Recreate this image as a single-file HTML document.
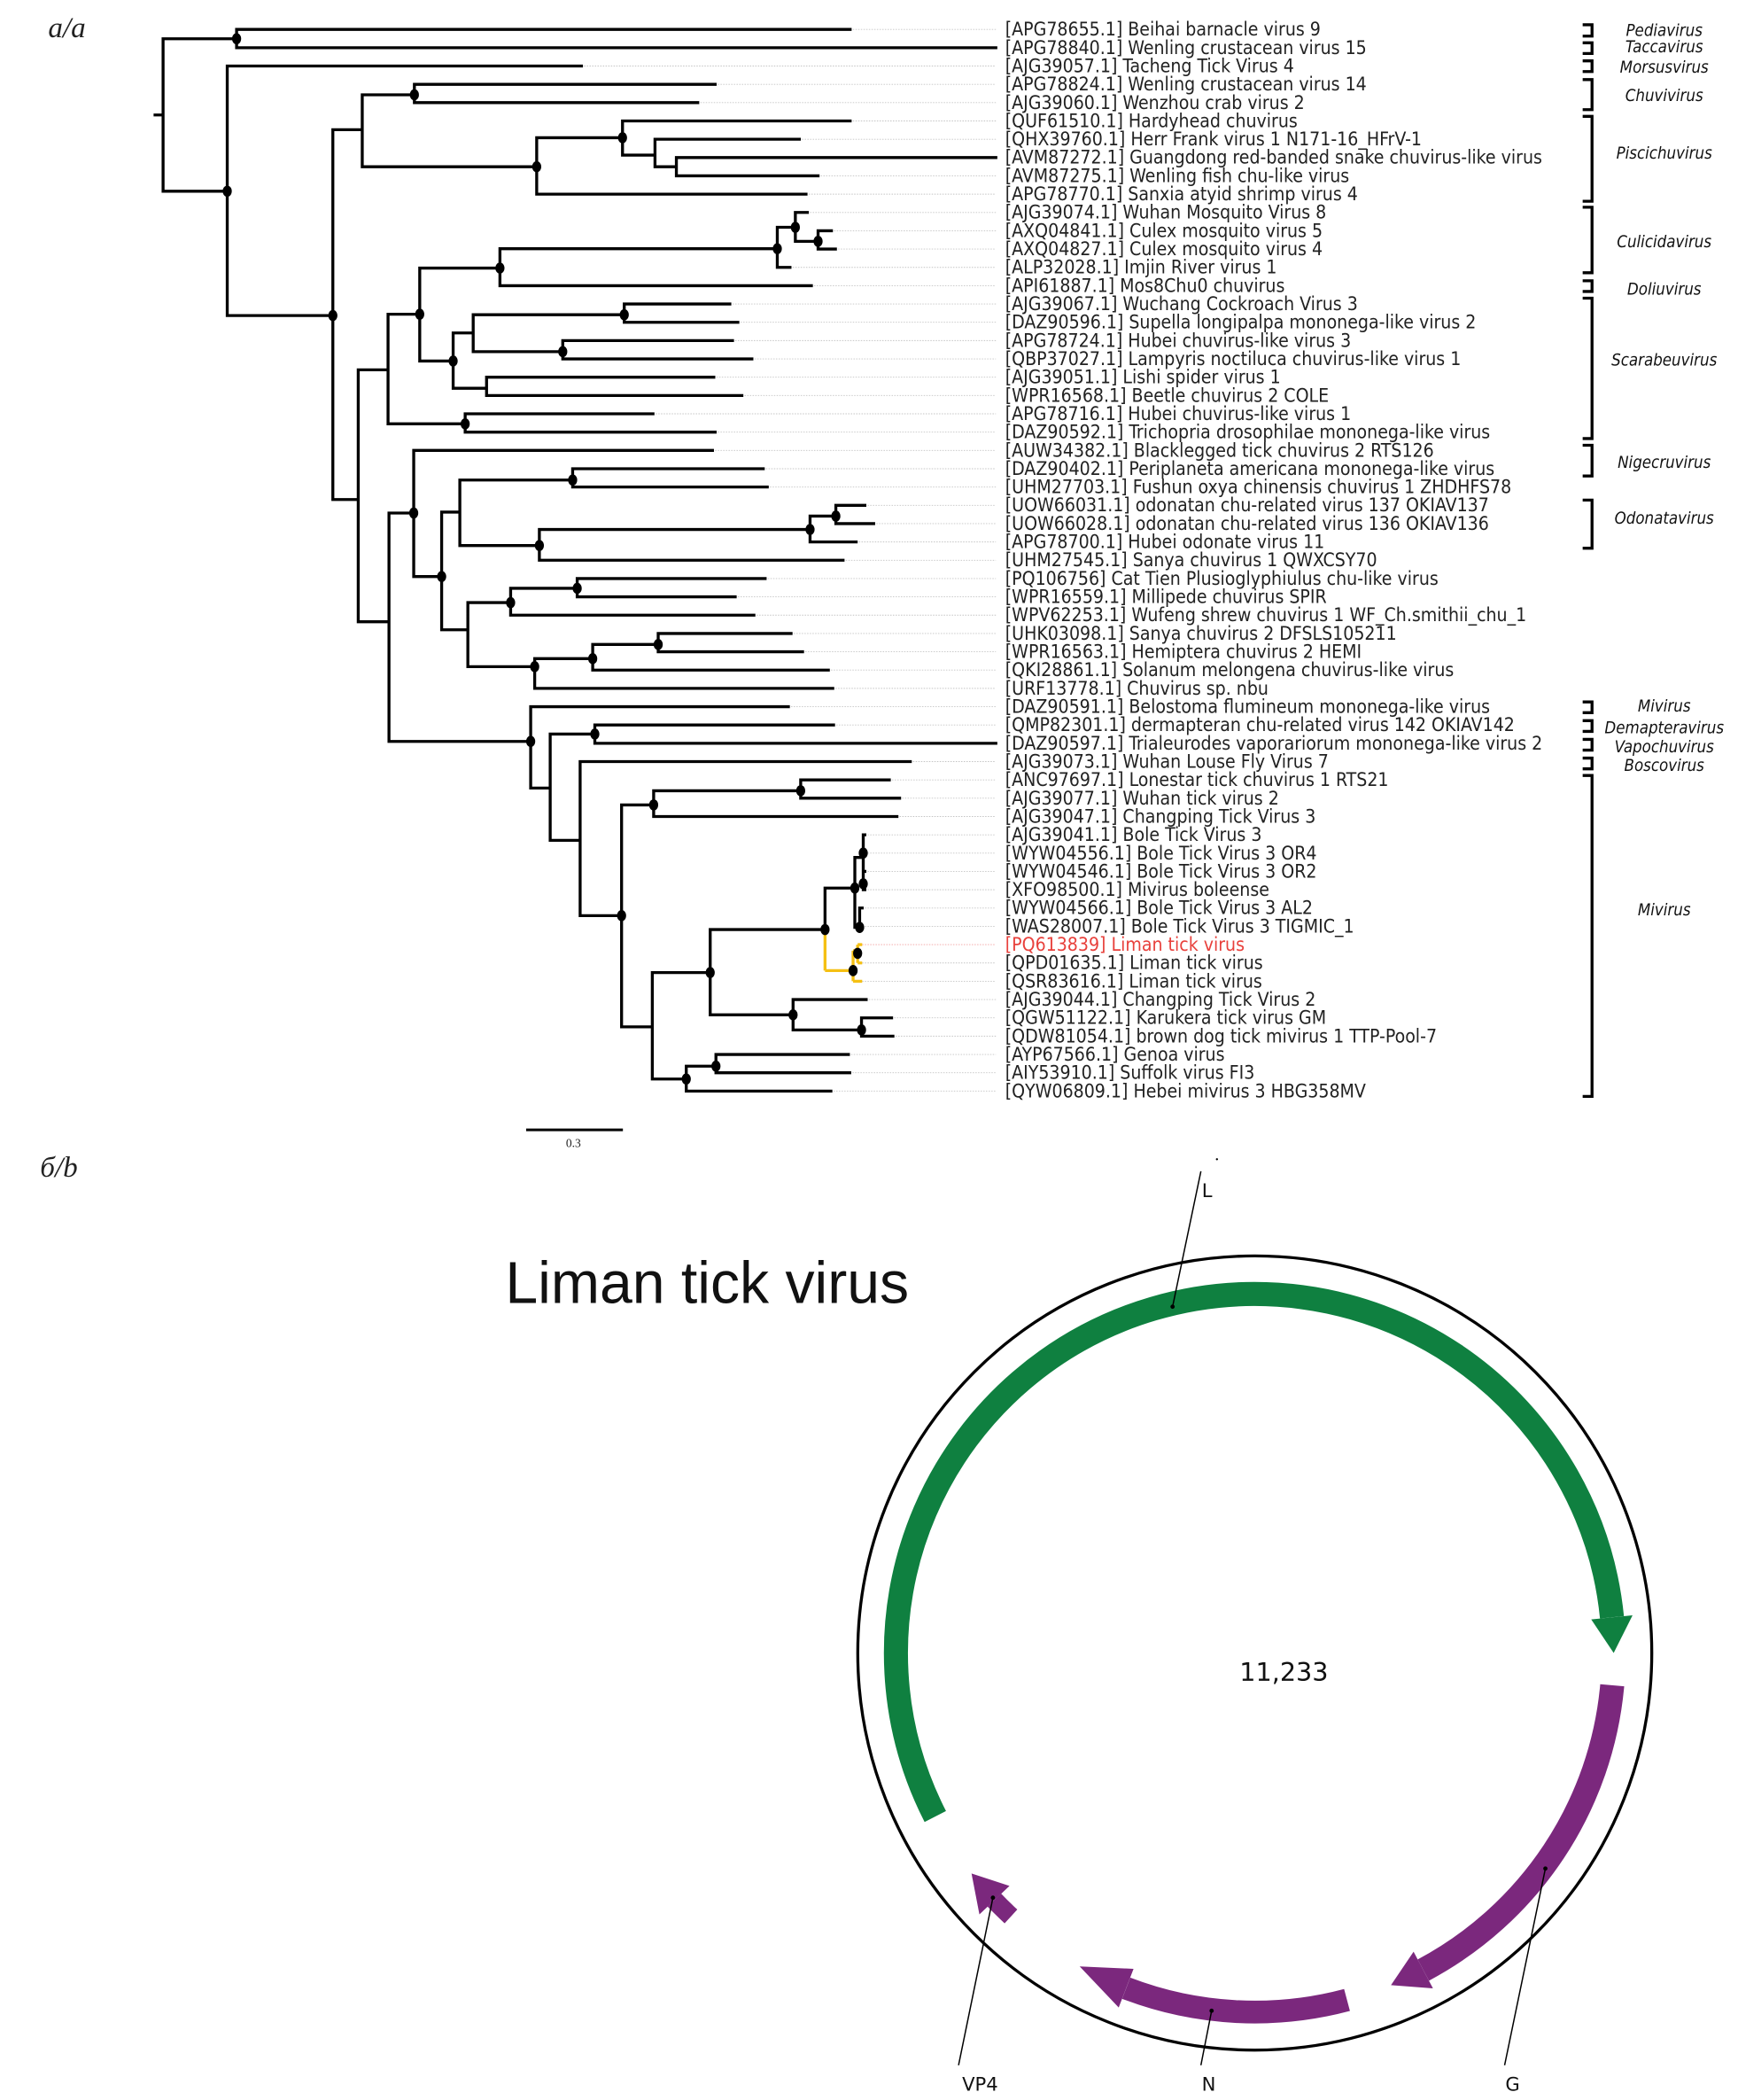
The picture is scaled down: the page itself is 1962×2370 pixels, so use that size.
<!DOCTYPE html>
<html><head><meta charset="utf-8"><style>
html,body{margin:0;padding:0;background:#fff;}
svg{display:block;}
.lb{font-family:"DejaVu Sans Condensed","DejaVu Sans","Liberation Sans",sans-serif;font-stretch:condensed;font-size:14px;fill:#222;}
.gn{font-family:"DejaVu Sans Condensed","DejaVu Sans","Liberation Sans",sans-serif;font-stretch:condensed;font-style:italic;font-size:12.3px;fill:#111;}
</style></head><body>
<svg width="1962" height="2370" viewBox="0 0 1300.2 1570.6" preserveAspectRatio="none" xmlns="http://www.w3.org/2000/svg">
<rect width="1300.2" height="1570.6" fill="#fff"/>
<text x="36" y="28" font-family="Liberation Serif,serif" font-style="italic" font-size="22" fill="#222">a/a</text>
<text x="30" y="880" font-family="Liberation Serif,serif" font-style="italic" font-size="22" fill="#222">б/b</text>

<path fill="none" stroke="#c4c4c4" stroke-width="0.6" stroke-dasharray="1 1" d="M636 22H745M435 49.38H745M535 63.07H745M522 76.76H745M636 90.45H745M598 104.14H745M612 131.52H745M603 145.21H745M604 158.9H745M622 172.59H745M625 186.28H745M591 199.97H745M607 213.66H745M546 227.35H745M552 241.04H745M548 254.73H745M562.5 268.42H745M534 282.11H745M555 295.8H745M488.5 309.49H745M535 323.18H745M533 336.87H745M571 350.56H745M574 364.25H745M647 377.94H745M653.6 391.63H745M640.5 405.32H745M630.7 419.01H745M572.4 432.7H745M550 446.39H745M564 460.08H745M591.8 473.77H745M600.4 487.46H745M619.7 501.15H745M623 514.84H745M589.8 528.53H745M623.6 542.22H745M681 569.6H745M665.3 583.29H745M673 596.98H745M671 610.67H745M647 624.36H745M647 638.05H745M647 651.74H745M647 665.43H745M645 679.12H745M645 692.81H745M645 720.19H745M645 733.88H745M648 747.57H745M667 761.26H745M668 774.95H745M634.7 788.64H745M635.7 802.33H745M621.6 816.02H745"/>
<path fill="none" stroke="#f2a0a0" stroke-width="0.6" stroke-dasharray="1 1" d="M645 706.5H745"/>

<path fill="none" stroke="#000" stroke-width="2.2" stroke-linecap="square" d="M116 86H122 M122 29V143 M122 29H177 M177 22V35.69 M177 22H636 M177 35.69H745 M122 143H170 M170 49.38V236 M170 49.38H435 M170 236H249 M249 97V373.6 M249 97H271 M249 373.6H268 M271 70.9V124.7 M271 70.9H310 M310 63.07V76.76 M310 63.07H535 M310 76.76H522 M271 124.7H401.5 M401.5 103V145.21 M401.5 103H465.7 M401.5 145.21H603 M465.7 90.45V116 M465.7 90.45H636 M465.7 116H490 M490 104.14V124.7 M490 104.14H598 M490 124.7H506 M506 117.83V131.52 M506 117.83H745 M506 131.52H612
M268 276.6V465 M268 276.6H290.3 M290.3 235V317 M290.3 235H314 M290.3 317H348 M314 200.5V270 M314 200.5H374 M314 270H339 M374 186V213.66 M374 186H581.5 M374 213.66H607 M581.5 170V199.97 M581.5 170H595 M581.5 199.97H591 M595 158.9V180.5 M595 158.9H604 M595 180.5H612 M612 172.59V186.28 M612 172.59H622 M612 186.28H625 M339 249V290.4 M339 249H354 M339 290.4H364 M354 235.4V263 M354 235.4H467 M354 263H421 M467 227.35V241.04 M467 227.35H546 M467 241.04H552 M421 254.73V268.42 M421 254.73H548 M421 268.42H562.5 M364 282.11V295.8 M364 282.11H534 M364 295.8H555 M348 309.49V323.18 M348 309.49H488.5 M348 323.18H535
M268 465H291 M291 383.7V554.5 M291 383.7H309.5 M291 554.5H397 M309.5 336.87V431.2 M309.5 336.87H533 M309.5 431.2H330.4 M330.4 383V471 M330.4 383H344 M330.4 471H350 M344 359V408 M344 359H428.4 M344 408H403.5 M428.4 350.56V364.25 M428.4 350.56H571 M428.4 364.25H574 M403.5 396V419.01 M403.5 396H606 M403.5 419.01H630.7 M606 386V405.32 M606 386H625.3 M606 405.32H640.5 M625.3 377.94V391.63 M625.3 377.94H647 M625.3 391.63H653.6 M350 450.7V498.6 M350 450.7H382 M350 498.6H400 M382 440V460.08 M382 440H431.8 M382 460.08H564 M431.8 432.7V446.39 M431.8 432.7H572.4 M431.8 446.39H550 M400 492.6V514.84 M400 492.6H443.4 M400 514.84H623 M443.4 482V501.15 M443.4 482H492.4 M443.4 501.15H619.7 M492.4 473.77V487.46 M492.4 473.77H591.8 M492.4 487.46H600.4
M397 528.53V589.4 M397 528.53H589.8 M397 589.4H411.6 M411.6 549V628.5 M411.6 549H445 M411.6 628.5H434 M445 542.22V555.91 M445 542.22H623.6 M445 555.91H745 M434 569.6V684.8 M434 569.6H681 M434 684.8H465 M465 602V768 M465 602H489 M465 768H488 M489 591.4V610.67 M489 591.4H599 M489 610.67H671 M599 583.29V596.98 M599 583.29H665.3 M599 596.98H673 M488 727.4V807 M488 727.4H531.3 M488 807H513.4 M531.3 695.2V759 M531.3 695.2H617.2 M531.3 759H593.3 M617.2 664.2V695.2 M617.2 664.2H639.5 M639.5 641.3V693.6 M639.5 641.3H645.8 M639.5 693.6H643.1 M645.8 624.36V665.43 M645.8 624.36H647 M645.8 638.05H647 M645.8 651.74H647 M645.8 665.43H647 M643.1 679.12V692.81 M643.1 679.12H645 M643.1 692.81H645 M593.3 747.57V770.3 M593.3 747.57H648 M593.3 770.3H644.5 M644.5 761.26V774.95 M644.5 761.26H667 M644.5 774.95H668 M513.4 797.4V816.02 M513.4 797.4H535.6 M513.4 816.02H621.6 M535.6 788.64V802.33 M535.6 788.64H634.7 M535.6 802.33H635.7"/>
<path fill="none" stroke="#f5c013" stroke-width="2.2" d="M617.2 695.2V725.9 M617.2 725.9H638.2 M638.2 711V733.88 M638.2 711H641.6 M638.2 733.88H645 M641.6 706.5V720.19 M641.6 706.5H645 M641.6 720.19H645"/>

<g fill="#000">
<ellipse cx="177" cy="29" rx="3.4" ry="4.2"/><ellipse cx="170" cy="143" rx="3.4" ry="4.2"/><ellipse cx="249" cy="236" rx="3.4" ry="4.2"/><ellipse cx="310" cy="70.9" rx="3.4" ry="4.2"/><ellipse cx="401.5" cy="124.7" rx="3.4" ry="4.2"/><ellipse cx="465.7" cy="103" rx="3.4" ry="4.2"/><ellipse cx="314" cy="235" rx="3.4" ry="4.2"/><ellipse cx="374" cy="200.5" rx="3.4" ry="4.2"/><ellipse cx="581.5" cy="186" rx="3.4" ry="4.2"/><ellipse cx="595" cy="170" rx="3.4" ry="4.2"/><ellipse cx="612" cy="180.5" rx="3.4" ry="4.2"/><ellipse cx="339" cy="270" rx="3.4" ry="4.2"/><ellipse cx="467" cy="235.4" rx="3.4" ry="4.2"/><ellipse cx="421" cy="263" rx="3.4" ry="4.2"/><ellipse cx="348" cy="317" rx="3.4" ry="4.2"/><ellipse cx="309.5" cy="383.7" rx="3.4" ry="4.2"/><ellipse cx="330.4" cy="431.2" rx="3.4" ry="4.2"/><ellipse cx="428.4" cy="359" rx="3.4" ry="4.2"/><ellipse cx="403.5" cy="408" rx="3.4" ry="4.2"/><ellipse cx="606" cy="396" rx="3.4" ry="4.2"/><ellipse cx="625.3" cy="386" rx="3.4" ry="4.2"/><ellipse cx="382" cy="450.7" rx="3.4" ry="4.2"/><ellipse cx="431.8" cy="440" rx="3.4" ry="4.2"/><ellipse cx="400" cy="498.6" rx="3.4" ry="4.2"/><ellipse cx="443.4" cy="492.6" rx="3.4" ry="4.2"/><ellipse cx="492.4" cy="482" rx="3.4" ry="4.2"/><ellipse cx="397" cy="554.5" rx="3.4" ry="4.2"/><ellipse cx="445" cy="549" rx="3.4" ry="4.2"/><ellipse cx="465" cy="684.8" rx="3.4" ry="4.2"/><ellipse cx="489" cy="602" rx="3.4" ry="4.2"/><ellipse cx="599" cy="591.4" rx="3.4" ry="4.2"/><ellipse cx="531.3" cy="727.4" rx="3.4" ry="4.2"/><ellipse cx="617.2" cy="695.2" rx="3.4" ry="4.2"/><ellipse cx="639.5" cy="664.2" rx="3.4" ry="4.2"/><ellipse cx="645.8" cy="638" rx="3.4" ry="4.2"/><ellipse cx="645.8" cy="661" rx="3.4" ry="4.2"/><ellipse cx="643.1" cy="693.6" rx="3.4" ry="4.2"/><ellipse cx="638.2" cy="725.9" rx="3.4" ry="4.2"/><ellipse cx="641.6" cy="713" rx="3.4" ry="4.2"/><ellipse cx="593.3" cy="759" rx="3.4" ry="4.2"/><ellipse cx="644.5" cy="770.3" rx="3.4" ry="4.2"/><ellipse cx="513.4" cy="807" rx="3.4" ry="4.2"/><ellipse cx="535.6" cy="797.4" rx="3.4" ry="4.2"/>
</g>

<path d="M393.6 845H466" stroke="#000" stroke-width="2"/>
<text x="429" y="858" text-anchor="middle" font-family="Liberation Serif,serif" font-size="9" fill="#222">0.3</text>

<g class="lb">
<text x="752" y="26.6">[APG78655.1] Beihai barnacle virus 9</text>
<text x="752" y="40.3">[APG78840.1] Wenling crustacean virus 15</text>
<text x="752" y="54">[AJG39057.1] Tacheng Tick Virus 4</text>
<text x="752" y="67.7">[APG78824.1] Wenling crustacean virus 14</text>
<text x="752" y="81.4">[AJG39060.1] Wenzhou crab virus 2</text>
<text x="752" y="95.1">[QUF61510.1] Hardyhead chuvirus</text>
<text x="752" y="108.7">[QHX39760.1] Herr Frank virus 1 N171-16_HFrV-1</text>
<text x="752" y="122.4">[AVM87272.1] Guangdong red-banded snake chuvirus-like virus</text>
<text x="752" y="136.1">[AVM87275.1] Wenling fish chu-like virus</text>
<text x="752" y="149.8">[APG78770.1] Sanxia atyid shrimp virus 4</text>
<text x="752" y="163.5">[AJG39074.1] Wuhan Mosquito Virus 8</text>
<text x="752" y="177.2">[AXQ04841.1] Culex mosquito virus 5</text>
<text x="752" y="190.9">[AXQ04827.1] Culex mosquito virus 4</text>
<text x="752" y="204.6">[ALP32028.1] Imjin River virus 1</text>
<text x="752" y="218.3">[API61887.1] Mos8Chu0 chuvirus</text>
<text x="752" y="231.9">[AJG39067.1] Wuchang Cockroach Virus 3</text>
<text x="752" y="245.6">[DAZ90596.1] Supella longipalpa mononega-like virus 2</text>
<text x="752" y="259.3">[APG78724.1] Hubei chuvirus-like virus 3</text>
<text x="752" y="273">[QBP37027.1] Lampyris noctiluca chuvirus-like virus 1</text>
<text x="752" y="286.7">[AJG39051.1] Lishi spider virus 1</text>
<text x="752" y="300.4">[WPR16568.1] Beetle chuvirus 2 COLE</text>
<text x="752" y="314.1">[APG78716.1] Hubei chuvirus-like virus 1</text>
<text x="752" y="327.8">[DAZ90592.1] Trichopria drosophilae mononega-like virus</text>
<text x="752" y="341.5">[AUW34382.1] Blacklegged tick chuvirus 2 RTS126</text>
<text x="752" y="355.2">[DAZ90402.1] Periplaneta americana mononega-like virus</text>
<text x="752" y="368.8">[UHM27703.1] Fushun oxya chinensis chuvirus 1 ZHDHFS78</text>
<text x="752" y="382.5">[UOW66031.1] odonatan chu-related virus 137 OKIAV137</text>
<text x="752" y="396.2">[UOW66028.1] odonatan chu-related virus 136 OKIAV136</text>
<text x="752" y="409.9">[APG78700.1] Hubei odonate virus 11</text>
<text x="752" y="423.6">[UHM27545.1] Sanya chuvirus 1 QWXCSY70</text>
<text x="752" y="437.3">[PQ106756] Cat Tien Plusioglyphiulus chu-like virus</text>
<text x="752" y="451">[WPR16559.1] Millipede chuvirus SPIR</text>
<text x="752" y="464.7">[WPV62253.1] Wufeng shrew chuvirus 1 WF_Ch.smithii_chu_1</text>
<text x="752" y="478.4">[UHK03098.1] Sanya chuvirus 2 DFSLS105211</text>
<text x="752" y="492.1">[WPR16563.1] Hemiptera chuvirus 2 HEMI</text>
<text x="752" y="505.7">[QKI28861.1] Solanum melongena chuvirus-like virus</text>
<text x="752" y="519.4">[URF13778.1] Chuvirus sp. nbu</text>
<text x="752" y="533.1">[DAZ90591.1] Belostoma flumineum mononega-like virus</text>
<text x="752" y="546.8">[QMP82301.1] dermapteran chu-related virus 142 OKIAV142</text>
<text x="752" y="560.5">[DAZ90597.1] Trialeurodes vaporariorum mononega-like virus 2</text>
<text x="752" y="574.2">[AJG39073.1] Wuhan Louse Fly Virus 7</text>
<text x="752" y="587.9">[ANC97697.1] Lonestar tick chuvirus 1 RTS21</text>
<text x="752" y="601.6">[AJG39077.1] Wuhan tick virus 2</text>
<text x="752" y="615.3">[AJG39047.1] Changping Tick Virus 3</text>
<text x="752" y="629">[AJG39041.1] Bole Tick Virus 3</text>
<text x="752" y="642.7">[WYW04556.1] Bole Tick Virus 3 OR4</text>
<text x="752" y="656.3">[WYW04546.1] Bole Tick Virus 3 OR2</text>
<text x="752" y="670">[XFO98500.1] Mivirus boleense</text>
<text x="752" y="683.7">[WYW04566.1] Bole Tick Virus 3 AL2</text>
<text x="752" y="697.4">[WAS28007.1] Bole Tick Virus 3 TIGMIC_1</text>
<text x="752" y="711.1" fill="#e8413c">[PQ613839] Liman tick virus</text>
<text x="752" y="724.8">[QPD01635.1] Liman tick virus</text>
<text x="752" y="738.5">[QSR83616.1] Liman tick virus</text>
<text x="752" y="752.2">[AJG39044.1] Changping Tick Virus 2</text>
<text x="752" y="765.9">[QGW51122.1] Karukera tick virus GM</text>
<text x="752" y="779.6">[QDW81054.1] brown dog tick mivirus 1 TTP-Pool-7</text>
<text x="752" y="793.2">[AYP67566.1] Genoa virus</text>
<text x="752" y="806.9">[AIY53910.1] Suffolk virus FI3</text>
<text x="752" y="820.6">[QYW06809.1] Hebei mivirus 3 HBG358MV</text>
</g>

<path fill="none" stroke="#000" stroke-width="2.2" d="M1184 18.5H1191V27H1184 M1184 32H1191V40H1184 M1184 45.5H1191V53.5H1184 M1184 59.5H1191V82H1184 M1184 87H1191V150.5H1184 M1184 155H1191V204H1184 M1184 210H1191V218H1184 M1184 223H1191V328H1184 M1184 333H1191V356H1184 M1184 374H1191V410H1184 M1184 525H1191V533H1184 M1184 539H1191V547H1184 M1184 553H1191V561H1184 M1184 567H1191V575H1184 M1184 580H1191V820H1184"/>
<g class="gn" text-anchor="middle">
<text x="1245" y="27">Pediavirus</text>
<text x="1245" y="39">Taccavirus</text>
<text x="1245" y="54.5">Morsusvirus</text>
<text x="1245" y="75.5">Chuvivirus</text>
<text x="1245" y="118.5">Piscichuvirus</text>
<text x="1245" y="185">Culicidavirus</text>
<text x="1245" y="220.5">Doliuvirus</text>
<text x="1245" y="273.5">Scarabeuvirus</text>
<text x="1245" y="350">Nigecruvirus</text>
<text x="1245" y="391.5">Odonatavirus</text>
<text x="1245" y="532">Mivirus</text>
<text x="1245" y="548.5">Demapteravirus</text>
<text x="1245" y="562.5">Vapochuvirus</text>
<text x="1245" y="576.5">Boscovirus</text>
<text x="1245" y="684.5">Mivirus</text>
</g>

<text x="378" y="974.6" font-family="Liberation Sans,sans-serif" font-size="44" textLength="302" lengthAdjust="spacingAndGlyphs" fill="#111">Liman tick virus</text>
<circle cx="938.7" cy="1236.3" r="297" fill="none" stroke="#000" stroke-width="2.2"/>
<path d="M699.7 1358.6 A268.5 268.5 0 1 1 1205.9 1209.6" fill="none" stroke="#0f8040" stroke-width="18"/>
<polygon points="1190.4,1211.2 1221.3,1208.1 1207.2,1236.3" fill="#0f8040"/>
<path d="M1206.1 1260.4 A268.5 268.5 0 0 1 1064.8 1473.4" fill="none" stroke="#7b287d" stroke-width="18"/>
<polygon points="1057.5,1459.7 1072,1487.1 1040.6,1484.7" fill="#7b287d"/>
<path d="M1007.7 1495.8 A268.5 268.5 0 0 1 842.5 1487" fill="none" stroke="#7b287d" stroke-width="17"/>
<polygon points="848,1472.5 836.9,1501.4 807.7,1470.7" fill="#7b287d"/>
<path d="M756.3 1433.3 A268.5 268.5 0 0 1 743.9 1421.1" fill="none" stroke="#7b287d" stroke-width="14"/>
<polygon points="755.2,1410.5 732.7,1431.8 726.8,1401.2" fill="#7b287d"/>
<text x="960.5" y="1257.3" text-anchor="middle" font-family="DejaVu Sans,sans-serif" font-size="19" fill="#111">11,233</text>
<g stroke="#000" stroke-width="1" fill="none">
<path d="M898.4 876 L877.2 977.3"/>
<path d="M1125.6 1544.6 L1156.1 1397.5"/>
<path d="M898.4 1544.6 L906.4 1503.9"/>
<path d="M717.1 1544.6 L742.8 1419.3"/>
</g>
<g fill="#000">
<circle cx="877.2" cy="977.3" r="1.6"/><circle cx="1156.1" cy="1397.5" r="1.6"/><circle cx="906.4" cy="1503.9" r="1.6"/><circle cx="742.8" cy="1419.3" r="1.6"/><circle cx="910.4" cy="867" r="0.8"/>
</g>
<g font-family="DejaVu Sans,sans-serif" font-size="14" fill="#111" text-anchor="middle">
<text x="903" y="895.3">L</text>
<text x="1131.6" y="1563.5">G</text>
<text x="904.3" y="1563.5">N</text>
<text x="733.2" y="1563.5">VP4</text>
</g>
</svg>
</body></html>
